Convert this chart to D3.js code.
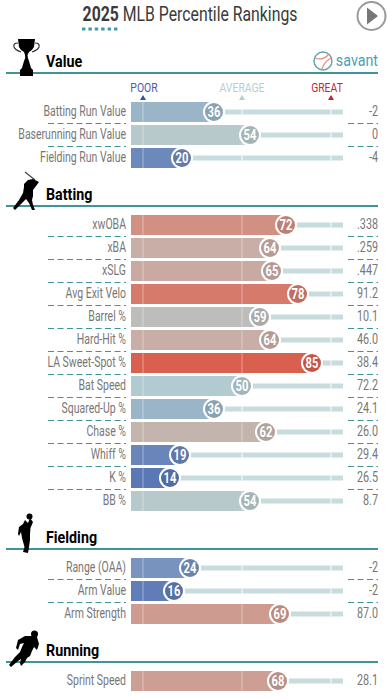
<!DOCTYPE html>
<html>
<head>
<meta charset="utf-8">
<script src="https://cdn.jsdelivr.net/npm/d3@7"></script>
<style>
  html, body { margin: 0; padding: 0; background: #fff; }
  svg { display: block; }
  text { font-family: Roboto, sans-serif; }
</style>
</head>
<body>
<div id="chart"></div>
<script>
// percentile rows, one set of arrays per section
var valueLabels = ["Batting Run Value", "Baserunning Run Value", "Fielding Run Value"];
var valuePct = [36, 54, 20];
var valueStats = ["-2", "0", "-4"];

var battingLabels = ["xwOBA", "xBA", "xSLG", "Avg Exit Velo", "Barrel %", "Hard-Hit %", "LA Sweet-Spot %", "Bat Speed", "Squared-Up %", "Chase %", "Whiff %", "K %", "BB %"];
var battingPct = [72, 64, 65, 78, 59, 64, 85, 50, 36, 62, 19, 14, 54];
var battingStats = [".338", ".259", ".447", "91.2", "10.1", "46.0", "38.4", "72.2", "24.1", "26.0", "29.4", "26.5", "8.7"];

var fieldingLabels = ["Range (OAA)", "Arm Value", "Arm Strength"];
var fieldingPct = [24, 16, 69];
var fieldingStats = ["-2", "-2", "87.0"];

var runningLabels = ["Sprint Speed"];
var runningPct = [68];
var runningStats = ["28.1"];

var tickPct = [0.5, 50, 94.5];
var tickNames = ["POOR", "AVERAGE", "GREAT"];

var width = 388;
var height = 698;

var sections = [
  {name: "Value", labels: valueLabels, pct: valuePct, stats: valueStats, line: 73, top: 102},
  {name: "Batting", labels: battingLabels, pct: battingPct, stats: battingStats, line: 206, top: 215},
  {name: "Fielding", labels: fieldingLabels, pct: fieldingPct, stats: fieldingStats, line: 549, top: 558},
  {name: "Running", labels: runningLabels, pct: runningPct, stats: runningStats, line: 662, top: 671}
];

var x = d3.scaleLinear().domain([0, 100]).range([142, 342]);
var rowY = d3.scaleLinear().domain([0, 1]).range([0, 23]);
var barColor = d3.scaleLinear()
  .domain([14, 20, 36, 52, 59, 64, 72, 78, 85])
  .range(["#5a78b5", "#6d88ba", "#9ab4c8", "#b4ced2", "#bdbdbb", "#c8aea6", "#d19082", "#d67a6b", "#d9604f"]);

var svg = d3.select("#chart").append("svg")
  .attr("width", width)
  .attr("height", height);

// no condensed font installed, so Roboto gets narrowed by squeeze
function label(g, px, py, str, size, anchor, fill, weight, squeeze) {
  return g.append("text")
    .attr("transform", "translate(" + px + "," + py + ") scale(" + (squeeze || 0.84) + ",1)")
    .attr("text-anchor", anchor)
    .attr("font-size", size)
    .attr("font-weight", weight || 400)
    .attr("fill", fill)
    .text(str);
}

// title
var title = label(svg, 190, 21, "", 20, "middle", "#3a3a3a", 400, 0.79);
title.append("tspan").attr("font-weight", 700).text("2025");
title.append("tspan").text(" MLB Percentile Rankings");
svg.append("line")
  .attr("x1", 82).attr("x2", 118).attr("y1", 29).attr("y2", 29)
  .attr("stroke", "#3f9aa6").attr("stroke-width", 3).attr("stroke-dasharray", "3.4 3");

// play button
svg.append("circle").attr("cx", 371.5).attr("cy", 16).attr("r", 14)
  .attr("fill", "#fff").attr("stroke", "#9a9a9a").attr("stroke-width", 2);
svg.append("path").attr("d", "M367 7.5L378 16L367 24.5Z").attr("fill", "#777");

// savant logo
var logo = svg.append("g").attr("transform", "translate(323,61)");
logo.append("circle").attr("r", 9).attr("fill", "#fff").attr("stroke", "#5ba5ad").attr("stroke-width", 1.4);
logo.append("path").attr("d", "M-8 -3Q0 0 6 -7M-1 8Q1 1 8 -3")
  .attr("fill", "none").attr("stroke", "#ea8a76").attr("stroke-width", 1.2);
label(svg, 378, 66, "savant", 17, "end", "#4f9fb0");

// poor / average / great header
var tickColors = ["#4a5aa8", "#b5ced4", "#c8243a"];
var tickTextX = [144, 242, 327];
tickNames.forEach(function (d, i) {
  label(svg, tickTextX[i], 92, d, 13, "middle", tickColors[i], 400, 0.8);
  svg.append("path")
    .attr("d", "M" + (x(tickPct[i]) - 3) + " 100L" + x(tickPct[i]) + " 95L" + (x(tickPct[i]) + 3) + " 100Z")
    .attr("fill", ["#2f56a5", "#b5ced4", "#c8202f"][i]);
});

sections.forEach(function (s) {
  svg.append("line")
    .attr("x1", 6).attr("x2", 378).attr("y1", s.line).attr("y2", s.line)
    .attr("stroke", "#3f9498").attr("stroke-width", 2);
  label(svg, 46, s.line - 6.5, s.name, 17, "start", "#000", 700);

  var rows = svg.append("g").selectAll("g")
    .data(s.labels)
    .enter().append("g")
    .attr("transform", function (d, i) { return "translate(0," + (s.top + rowY(i)) + ")"; });

  // track
  rows.append("rect")
    .attr("x", 131).attr("y", 7.5).attr("height", 5)
    .attr("width", 212)
    .attr("fill", "#c7dcdd");

  // bar
  rows.append("rect")
    .attr("x", 131).attr("y", 0).attr("height", 20)
    .attr("width", function (d, i) { return x(s.pct[i]) - 131; })
    .attr("fill", function (d, i) { return barColor(s.pct[i]); });

  // tick marks sit over both bar and track
  tickPct.forEach(function (t) {
    rows.append("line")
      .attr("x1", x(t)).attr("x2", x(t))
      .attr("y1", function (d, i) { return x(s.pct[i]) > x(t) ? 0 : 7.5; })
      .attr("y2", function (d, i) { return x(s.pct[i]) > x(t) ? 20 : 12.5; })
      .attr("stroke", "#fff")
      .attr("stroke-opacity", function (d, i) { return x(s.pct[i]) > x(t) ? 0.4 : 1; });
  });

  rows.append("circle")
    .attr("cx", function (d, i) { return x(s.pct[i]); })
    .attr("cy", 10).attr("r", 11).attr("fill", "#fff");
  rows.append("circle")
    .attr("cx", function (d, i) { return x(s.pct[i]); })
    .attr("cy", 10).attr("r", 9)
    .attr("fill", function (d, i) { return d3.rgb(barColor(s.pct[i])).darker(0.3); });

  rows.each(function (d, i) {
    var g = d3.select(this);
    label(g, x(s.pct[i]), 15, s.pct[i], 14, "middle", "#fff", 700, 0.8);
    label(g, 126, 13.5, d, 14, "end", "#777", 400, 0.75);
    label(g, 378, 13.5, s.stats[i], 14, "end", "#777", 400, 0.77);
    if (i < s.labels.length - 1) {
      [[48, 126], [348, 378]].forEach(function (e) {
        g.append("line")
          .attr("x1", e[0]).attr("x2", e[1]).attr("y1", 21.5).attr("y2", 21.5)
          .attr("stroke", "#3f9498").attr("stroke-dasharray", "6 3.5");
      });
    }
  });
});

// section silhouettes, drawn last so they cover the rule
var icons = svg.append("g").attr("fill", "#000");
// trophy
icons.append("path").attr("d", "M18 39H35L34 47Q32 51 29 52L27.5 55Q27.5 58 29 61L31 68L33 70V76H20V70L22 68L24 61Q26 58 25 55L24 52Q21 51 19 47Z");
icons.append("path").attr("d", "M18 43Q13 43 14 47Q15 50 21 52M35 43Q40 43 39 47Q38 50 32 52")
  .attr("fill", "none").attr("stroke", "#333").attr("stroke-width", 1.2);
// batter
icons.append("line").attr("x1", 25).attr("y1", 172).attr("x2", 35).attr("y2", 180)
  .attr("stroke", "#444").attr("stroke-width", 1.3);
icons.append("path").attr("d", "M33 179L39 182L36 186L33 190L33 196L32 200L33 205L35 210L32 210L29 203L26 199L21 204L15 210L13 208L19 200L23 193L24 187L24 184L28 180Z");
// fielder
icons.append("circle").attr("cx", 29.5).attr("cy", 516.5).attr("r", 3);
icons.append("path").attr("d", "M30 518L33 522L30.5 528L30 534L30 540L29 547L28 553L23 552L24.5 547L22 538L21 532L19 536L18 534L19 527L23 524L25 520L28 523Z");
// runner
icons.append("circle").attr("cx", 34.5).attr("cy", 634).attr("r", 3.5);
icons.append("path").attr("d", "M31 636L37 637L39 644L37 650L34 647L32 651L30 656L27 658L25 662L21 666L20 663L21 659L18 661L11 667L9 665L15 657L20 652L22 647L24 643L20 644L18 650L16 648L18 640L25 636Z");
</script>
</body>
</html>
